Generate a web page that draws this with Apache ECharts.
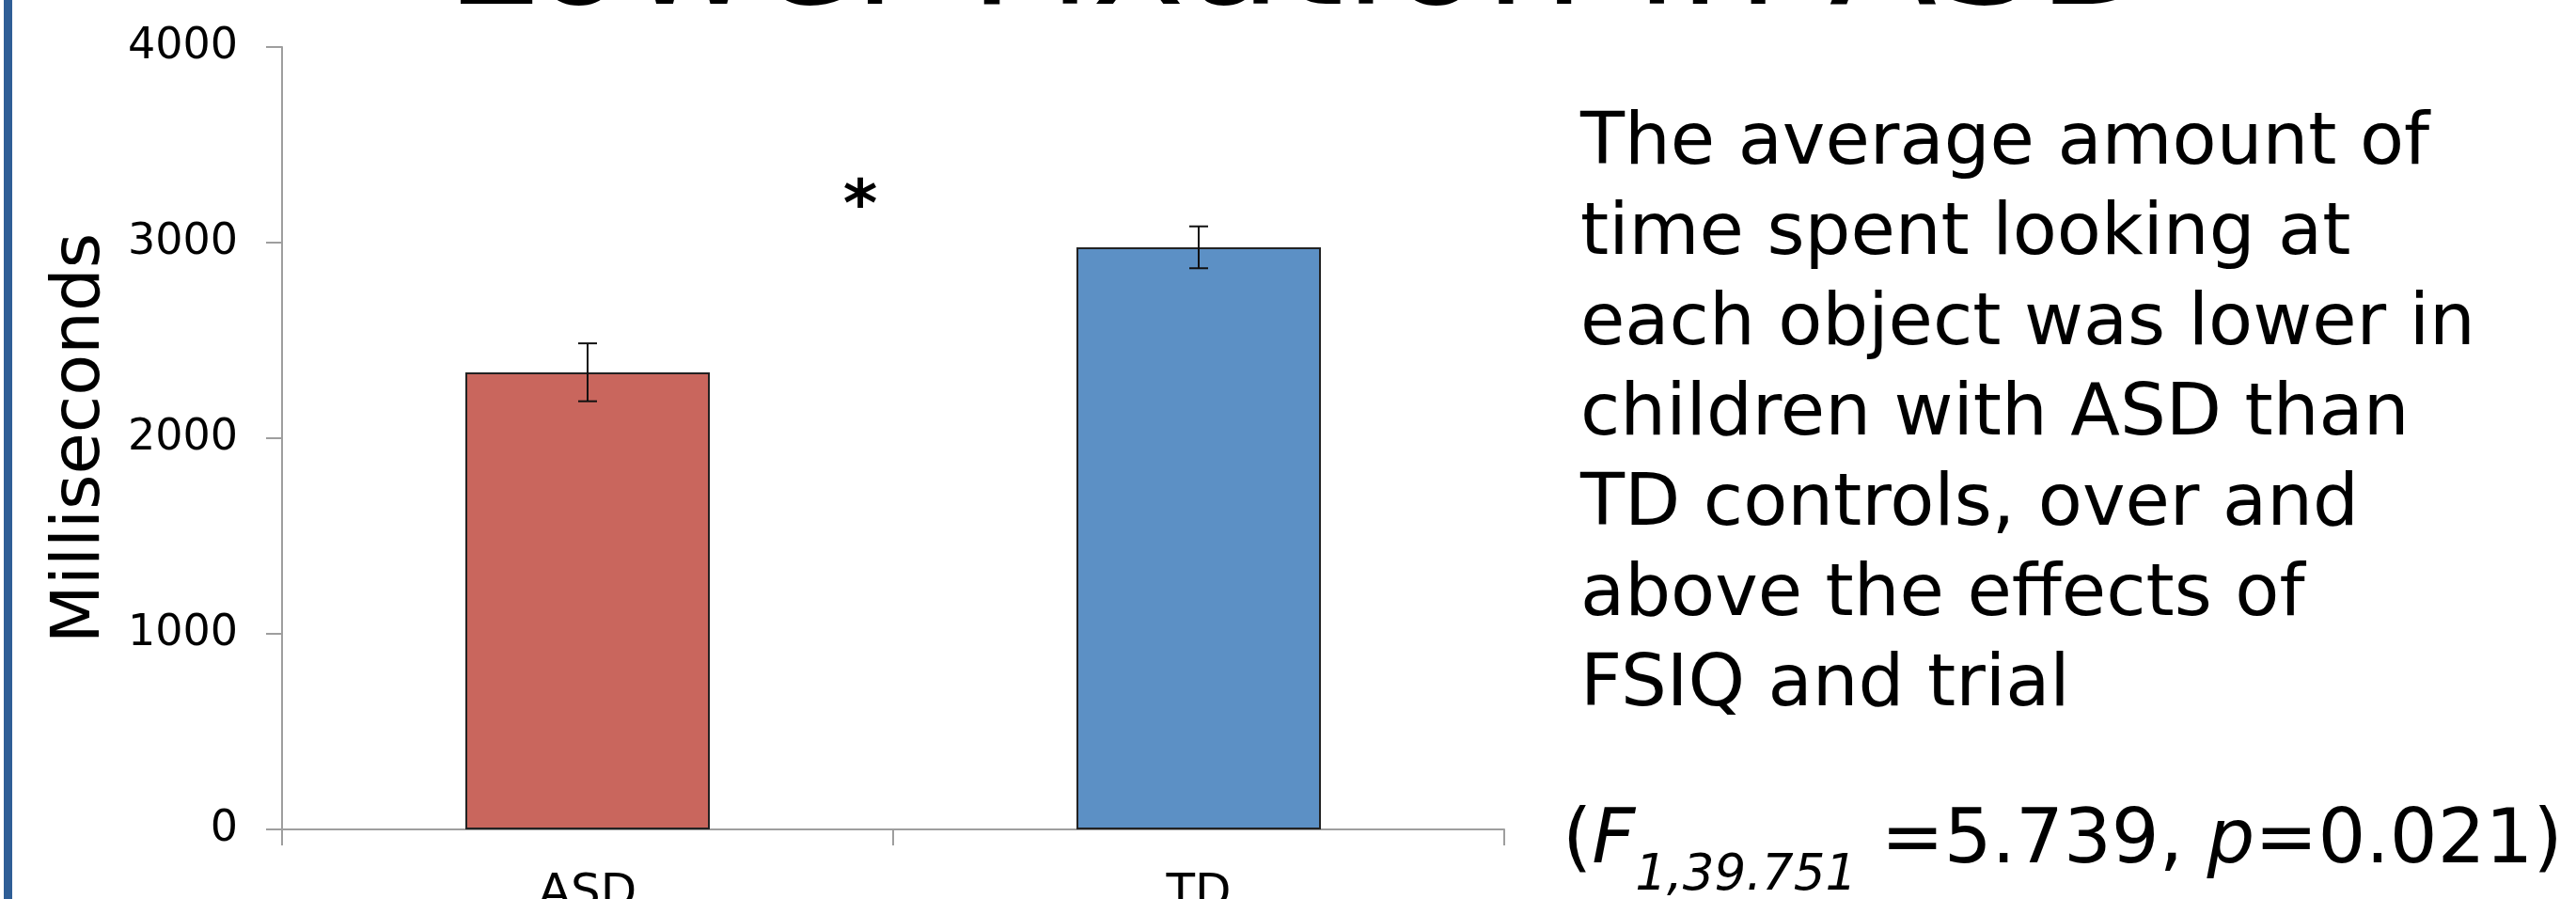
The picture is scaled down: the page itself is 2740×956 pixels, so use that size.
<!DOCTYPE html>
<html><head><meta charset="utf-8">
<style>html,body{margin:0;padding:0;background:#fff}#c{width:2740px;height:956px}</style>
<script src="https://cdn.jsdelivr.net/npm/echarts@6/dist/echarts.min.js"></script>
</head><body><div id="c"></div>
<script>
// ---- data ----
const categories = ['ASD', 'TD'];
const meanValues = [2337, 2976];
const errorValues = [148, 107];
const barColors = ['#C9665D', '#5C90C5'];
const yMin = 0, yMax = 4000, yInterval = 1000;
const titleText = 'Lower Fixation in ASD';
const yAxisName = 'Milliseconds';
const significanceMark = '*';
const noteLines = [
  'The average amount of',
  'time spent looking at',
  'each object was lower in',
  'children with ASD than',
  'TD controls, over and',
  'above the effects of',
  'FSIQ and trial'
];
const statPieces = [
  {t: '(', it: false, sub: false},
  {t: 'F', it: true, sub: false},
  {t: '1,39.751', it: true, sub: true},
  {t: ' =5.739, ', it: false, sub: false},
  {t: 'p', it: true, sub: false},
  {t: '=0.021)', it: false, sub: false}
];

const FONT = '"DejaVu Sans", Verdana, sans-serif';
const chart = echarts.init(document.getElementById('c'), null, {renderer: 'canvas'});

// stats line pieces placed side by side using measured widths
const cv = document.createElement('canvas').getContext('2d');
const mainSize = 80, subSize = 53;
let sx = 1662;
const statEls = [];
statPieces.forEach(p => {
  const size = p.sub ? subSize : mainSize;
  const font = (p.it ? 'italic ' : '') + size + 'px ' + FONT;
  cv.font = font;
  const w = cv.measureText(p.t).width;
  statEls.push({
    type: 'text', x: sx, y: p.sub ? 906 : 856,
    style: {text: p.t, font: font, fill: '#000', align: 'left', verticalAlign: 'top'}
  });
  sx += w;
});

const errData = categories.map((c, i) => [i, meanValues[i] - errorValues[i], meanValues[i] + errorValues[i]]);

const option = {
  backgroundColor: '#fff',
  animation: false,
  grid: {left: 300, top: 50, width: 1300, height: 832, containLabel: false, outerBoundsMode: 'none'},
  xAxis: {
    type: 'category', data: categories, boundaryGap: true,
    axisLine: {lineStyle: {color: '#9E9E9E', width: 2}},
    axisTick: {show: true, length: 17, inside: false, alignWithLabel: false, lineStyle: {color: '#9E9E9E', width: 2}},
    axisLabel: {color: '#000', fontSize: 50, fontFamily: FONT, margin: 44},
    splitLine: {show: false}
  },
  yAxis: {
    type: 'value', min: yMin, max: yMax, interval: yInterval,
    name: yAxisName, nameLocation: 'middle', nameRotate: 90, nameGap: 178,
    nameTextStyle: {color: '#000', fontSize: 72, fontFamily: FONT},
    axisLine: {show: true, lineStyle: {color: '#9E9E9E', width: 2}},
    axisTick: {show: true, length: 17, inside: false, lineStyle: {color: '#9E9E9E', width: 2}},
    axisLabel: {color: '#000', fontSize: 46, fontFamily: FONT, margin: 47, formatter: v => String(v)},
    splitLine: {show: false}
  },
  series: [
    {
      type: 'bar', barWidth: '40%',
      data: meanValues.map((v, i) => ({value: v, itemStyle: {color: barColors[i]}})),
      itemStyle: {borderColor: '#222', borderWidth: 2},
      z: 2
    },
    {
      type: 'custom', data: errData, encode: {x: 0, y: [1, 2]}, z: 5,
      renderItem: function (params, api) {
        const x = api.value(0), lo = api.value(1), hi = api.value(2);
        const pLo = api.coord([x, lo]), pHi = api.coord([x, hi]);
        const hw = 10;
        const st = {stroke: '#111', lineWidth: 2, fill: null};
        return {type: 'group', children: [
          {type: 'line', shape: {x1: pLo[0], y1: pLo[1], x2: pHi[0], y2: pHi[1]}, style: st},
          {type: 'line', shape: {x1: pLo[0] - hw, y1: pLo[1], x2: pLo[0] + hw, y2: pLo[1]}, style: st},
          {type: 'line', shape: {x1: pHi[0] - hw, y1: pHi[1], x2: pHi[0] + hw, y2: pHi[1]}, style: st}
        ]};
      }
    }
  ],
  graphic: [
    {type: 'rect', left: 4, top: 0, shape: {width: 9, height: 956}, style: {fill: '#2F5E96'}, silent: true},
    {type: 'text', x: 1385, y: -124, style: {text: titleText, font: '168px ' + FONT, fill: '#000', align: 'center', verticalAlign: 'top'}},
    {type: 'text', x: 915, y: 187, style: {text: significanceMark, font: 'bold 70px ' + FONT, fill: '#000', align: 'center', verticalAlign: 'top'}},
    {type: 'text', x: 1681, y: 106, style: {text: noteLines.join('\n'), font: '77px ' + FONT, lineHeight: 96, fill: '#000', align: 'left', verticalAlign: 'top'}}
  ].concat(statEls)
};
chart.setOption(option);
</script></body></html>
